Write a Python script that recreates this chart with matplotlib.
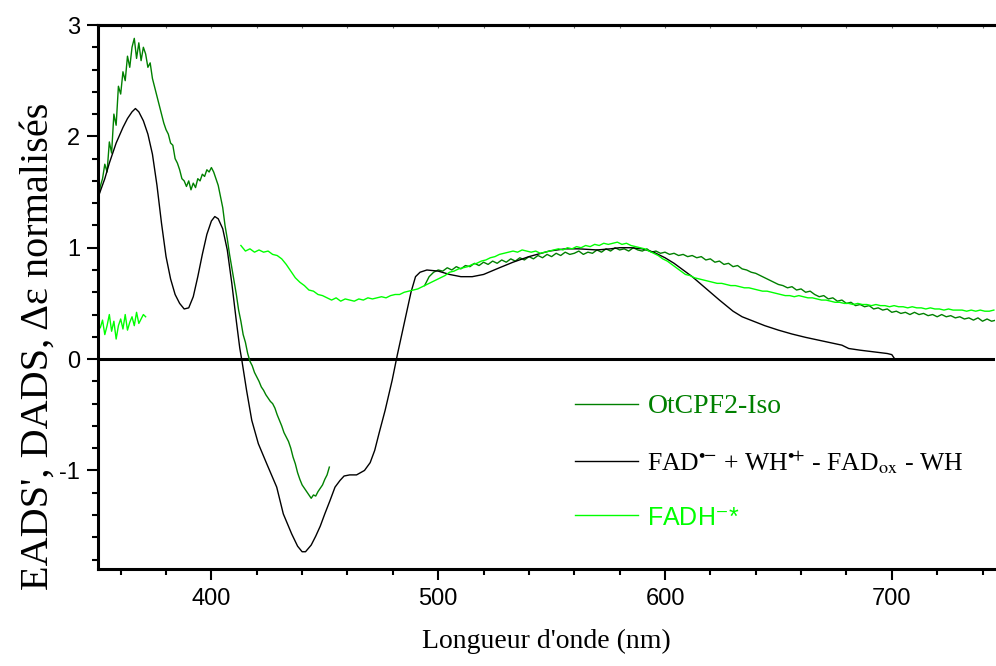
import numpy as np
import matplotlib
matplotlib.use("Agg")
import matplotlib.pyplot as plt
from matplotlib.ticker import MultipleLocator

plt.rcParams['font.family'] = ['Liberation Sans', 'DejaVu Sans']
plt.rcParams['mathtext.fontset'] = 'stix'
plt.rcParams['axes.unicode_minus'] = False

# --- OtCPF2-Iso (dark green), two pieces ---
iso_wl_a = np.arange(350, 453, 1)
iso_a = [1.40, 1.55, 1.62, 1.75, 1.68, 1.95, 1.85, 2.20, 2.10, 2.45,
         2.38, 2.58, 2.50, 2.72, 2.62, 2.80, 2.88, 2.70, 2.84, 2.68,
         2.80, 2.74, 2.62, 2.66, 2.52, 2.44, 2.36, 2.28, 2.20, 2.12,
         2.06, 2.02, 1.94, 1.92, 1.80, 1.76, 1.70, 1.62, 1.60, 1.55,
         1.60, 1.52, 1.58, 1.54, 1.62, 1.60, 1.66, 1.64, 1.70, 1.68,
         1.72, 1.68, 1.62, 1.56, 1.46, 1.36, 1.20, 1.08, 0.94, 0.82,
         0.70, 0.58, 0.44, 0.34, 0.22, 0.15, 0.05, -0.02, -0.06, -0.12,
         -0.16, -0.20, -0.25, -0.28, -0.32, -0.35, -0.38, -0.40, -0.44, -0.50,
         -0.55, -0.60, -0.66, -0.70, -0.74, -0.80, -0.88, -0.94, -1.02, -1.08,
         -1.13, -1.16, -1.19, -1.22, -1.25, -1.22, -1.23, -1.19, -1.16, -1.13,
         -1.08, -1.04, -0.97]

iso_wl_b = np.arange(494, 747, 2)
iso_b = [0.66, 0.74, 0.78, 0.80, 0.79, 0.82, 0.80, 0.83, 0.81, 0.84,
         0.83, 0.86, 0.84, 0.87, 0.85, 0.88, 0.86, 0.89, 0.87, 0.90,
         0.88, 0.91, 0.89, 0.92, 0.90, 0.93, 0.91, 0.94, 0.92, 0.95,
         0.93, 0.96, 0.94, 0.95, 0.97, 0.94, 0.96, 0.95, 0.98, 0.96,
         0.99, 0.97, 1.00, 0.98, 0.99, 0.97, 1.00, 0.98, 0.97, 0.99,
         0.96, 0.97, 0.95, 0.96, 0.94, 0.95, 0.93, 0.94, 0.92, 0.93,
         0.91, 0.92, 0.89, 0.90, 0.87, 0.88, 0.85, 0.86, 0.83, 0.84,
         0.81, 0.80, 0.78, 0.77, 0.75, 0.73, 0.71, 0.69, 0.67, 0.66,
         0.64, 0.65, 0.62, 0.63, 0.60, 0.61, 0.58, 0.56, 0.57, 0.54,
         0.55, 0.52, 0.53, 0.50, 0.51, 0.48, 0.49, 0.47, 0.48, 0.45,
         0.46, 0.44, 0.45, 0.42, 0.43, 0.41, 0.42, 0.40, 0.42, 0.40,
         0.41, 0.39, 0.40, 0.38, 0.40, 0.38, 0.39, 0.37, 0.38, 0.36,
         0.37, 0.35, 0.37, 0.34, 0.36, 0.34, 0.35]

# --- FAD.- + WH.+ - FADox - WH (black) ---
fad_wl = [350, 353, 355, 358, 361, 363, 365, 366.5, 368, 370,
          372, 374, 376, 378, 380, 382, 384, 386, 388, 390,
          392, 394, 396, 398, 400, 401.5, 403, 405, 407, 409,
          411, 412.5, 413.5, 415.5, 417.8, 420.7, 424.4, 428.8, 431.7, 435.4,
          438, 440, 441.5, 444, 446, 448, 450, 452.3, 454.5, 456.7,
          458.5, 461, 464, 467.5, 470, 472, 474, 476.6, 479.7, 482,
          485, 488, 490, 492, 495, 500, 505, 510, 515, 520,
          527, 533, 540, 549, 556, 562, 570, 576, 580, 585,
          590, 595, 600, 604, 608, 612, 616, 620, 624, 627,
          630, 634, 639, 644, 650, 656, 662, 670, 678, 681,
          686, 692, 698, 700, 701]
fad = [1.45, 1.62, 1.76, 1.94, 2.08, 2.16, 2.22, 2.25, 2.22, 2.14,
       2.02, 1.84, 1.56, 1.22, 0.92, 0.72, 0.58, 0.50, 0.45, 0.46,
       0.56, 0.74, 0.94, 1.12, 1.24, 1.28, 1.26, 1.17, 0.98, 0.68,
       0.34, 0.10, -0.02, -0.28, -0.55, -0.76, -0.94, -1.15, -1.39, -1.57,
       -1.68, -1.73, -1.73, -1.67, -1.59, -1.50, -1.39, -1.27, -1.15, -1.09,
       -1.05, -1.04, -1.04, -1.00, -0.93, -0.82, -0.66, -0.46, -0.19, 0.04,
       0.32, 0.60, 0.74, 0.78, 0.80, 0.79, 0.76, 0.74, 0.74, 0.76,
       0.82, 0.87, 0.92, 0.97, 0.99, 0.99, 0.98, 0.99, 1.00, 1.00,
       0.99, 0.96, 0.91, 0.86, 0.80, 0.74, 0.67, 0.60, 0.53, 0.48,
       0.43, 0.38, 0.34, 0.30, 0.26, 0.225, 0.195, 0.16, 0.125, 0.095,
       0.08, 0.065, 0.05, 0.04, 0.01]

# --- FADH-* (bright green), two pieces ---
fadh_wl_a = np.arange(350, 372, 1)
fadh_a = [0.32, 0.28, 0.35, 0.22, 0.30, 0.40, 0.25, 0.34, 0.18, 0.30,
          0.36, 0.27, 0.40, 0.26, 0.33, 0.38, 0.30, 0.42, 0.32, 0.36,
          0.40, 0.38]

fadh_wl_b = np.arange(413, 747, 2)
fadh_b = [1.02, 0.97, 0.99, 0.96, 0.98, 0.96, 0.97, 0.94, 0.93, 0.90,
          0.85, 0.79, 0.73, 0.69, 0.66, 0.62, 0.61, 0.58, 0.57, 0.55,
          0.53, 0.55, 0.52, 0.54, 0.53, 0.52, 0.54, 0.53, 0.55, 0.54,
          0.55, 0.56, 0.55, 0.57, 0.58, 0.58, 0.60, 0.61, 0.62, 0.63,
          0.65, 0.67, 0.69, 0.71, 0.73, 0.75, 0.78, 0.79, 0.81, 0.82,
          0.83, 0.85, 0.86, 0.88, 0.89, 0.91, 0.92, 0.94, 0.95, 0.96,
          0.97, 0.96, 0.98, 0.97, 0.96, 0.97, 0.95, 0.96, 0.97, 0.98,
          0.99, 0.98, 1.00, 0.99, 1.01, 1.00, 1.02, 1.01, 1.03, 1.02,
          1.04, 1.03, 1.04, 1.05, 1.03, 1.04, 1.02, 1.01, 1.00, 0.99,
          0.97, 0.95, 0.93, 0.90, 0.88, 0.85, 0.82, 0.79, 0.76, 0.75,
          0.73, 0.72, 0.71, 0.70, 0.69, 0.68, 0.68, 0.67, 0.66, 0.66,
          0.65, 0.64, 0.64, 0.63, 0.62, 0.61, 0.61, 0.60, 0.59, 0.58,
          0.57, 0.57, 0.56, 0.57, 0.56, 0.55, 0.55, 0.54, 0.53, 0.53,
          0.52, 0.51, 0.51, 0.50, 0.50, 0.49, 0.50, 0.49, 0.49, 0.48,
          0.49, 0.48, 0.48, 0.47, 0.48, 0.47, 0.47, 0.46, 0.47, 0.46,
          0.46, 0.45, 0.46, 0.45, 0.45, 0.44, 0.45, 0.44, 0.44, 0.44,
          0.43, 0.44, 0.43, 0.44, 0.43, 0.43, 0.44]

DARK = '#008000'
BRIGHT = '#00ff00'

fig = plt.figure(figsize=(9.96, 6.66), dpi=100)
ax = fig.add_axes([98/996, 97/666, 897/996, 544/666])

ax.axhline(0, color='black', lw=2.2, zorder=1)

l1, = ax.plot(iso_wl_a, iso_a, color=DARK, lw=1.0)
ax.plot(iso_wl_b, iso_b, color=DARK, lw=1.0)
l2, = ax.plot(fad_wl, fad, color='black', lw=1.0)
l3, = ax.plot(fadh_wl_a, fadh_a, color=BRIGHT, lw=1.0)
ax.plot(fadh_wl_b, fadh_b, color=BRIGHT, lw=1.0)

ax.set_xlim(350, 745.5)
ax.set_ylim(-1.885, 3.0)

ax.xaxis.set_major_locator(MultipleLocator(100))
ax.xaxis.set_minor_locator(MultipleLocator(20))
ax.yaxis.set_major_locator(MultipleLocator(1))
ax.yaxis.set_minor_locator(MultipleLocator(0.2))

ax.spines['right'].set_visible(False)
for s in ['left', 'bottom', 'top']:
    ax.spines[s].set_linewidth(2.2)

ax.tick_params(which='major', direction='out', length=8, width=1.5,
               labelsize=17, pad=5)
ax.tick_params(which='minor', direction='out', length=4.5, width=1.5)
ax.tick_params(axis='x', which='major', pad=6)

top = ax.secondary_xaxis('top')
top.xaxis.set_major_locator(MultipleLocator(20))
top.tick_params(which='both', direction='in', length=2, width=0.8,
                color='#666666', labeltop=False)
top.spines['top'].set_linewidth(2.2)

serif = ['Liberation Serif', 'DejaVu Serif']
ax.set_xlabel("Longueur d'onde (nm)", fontsize=20, family=serif, labelpad=13)
ax.set_ylabel("EADS', DADS, \u0394\u03b5 normalisés", fontsize=29,
              family=serif)
ax.yaxis.set_label_coords(-0.046, 0.41)

labels = ['OtCPF2-Iso',
          r'FAD$^{\bullet\!{-}}$ + WH$^{\bullet\!{+}}$ - FAD$_{\mathrm{ox}}$ - WH',
          'FADH$^{-}$*']
leg = ax.legend([l1, l2, l3], labels, loc='upper left',
                bbox_to_anchor=(0.532, 0.322), frameon=False,
                handlelength=2.25, handletextpad=0.35, labelspacing=1.05,
                borderpad=0, borderaxespad=0, fontsize=20)
texts = leg.get_texts()
texts[0].set_color(DARK)
texts[0].set_family(serif)
texts[1].set_color('black')
texts[1].set_family(serif)
texts[1].set_fontsize(18.5)
texts[2].set_color(BRIGHT)
texts[2].set_fontsize(18)

fig.savefig('out.png', dpi=100)
